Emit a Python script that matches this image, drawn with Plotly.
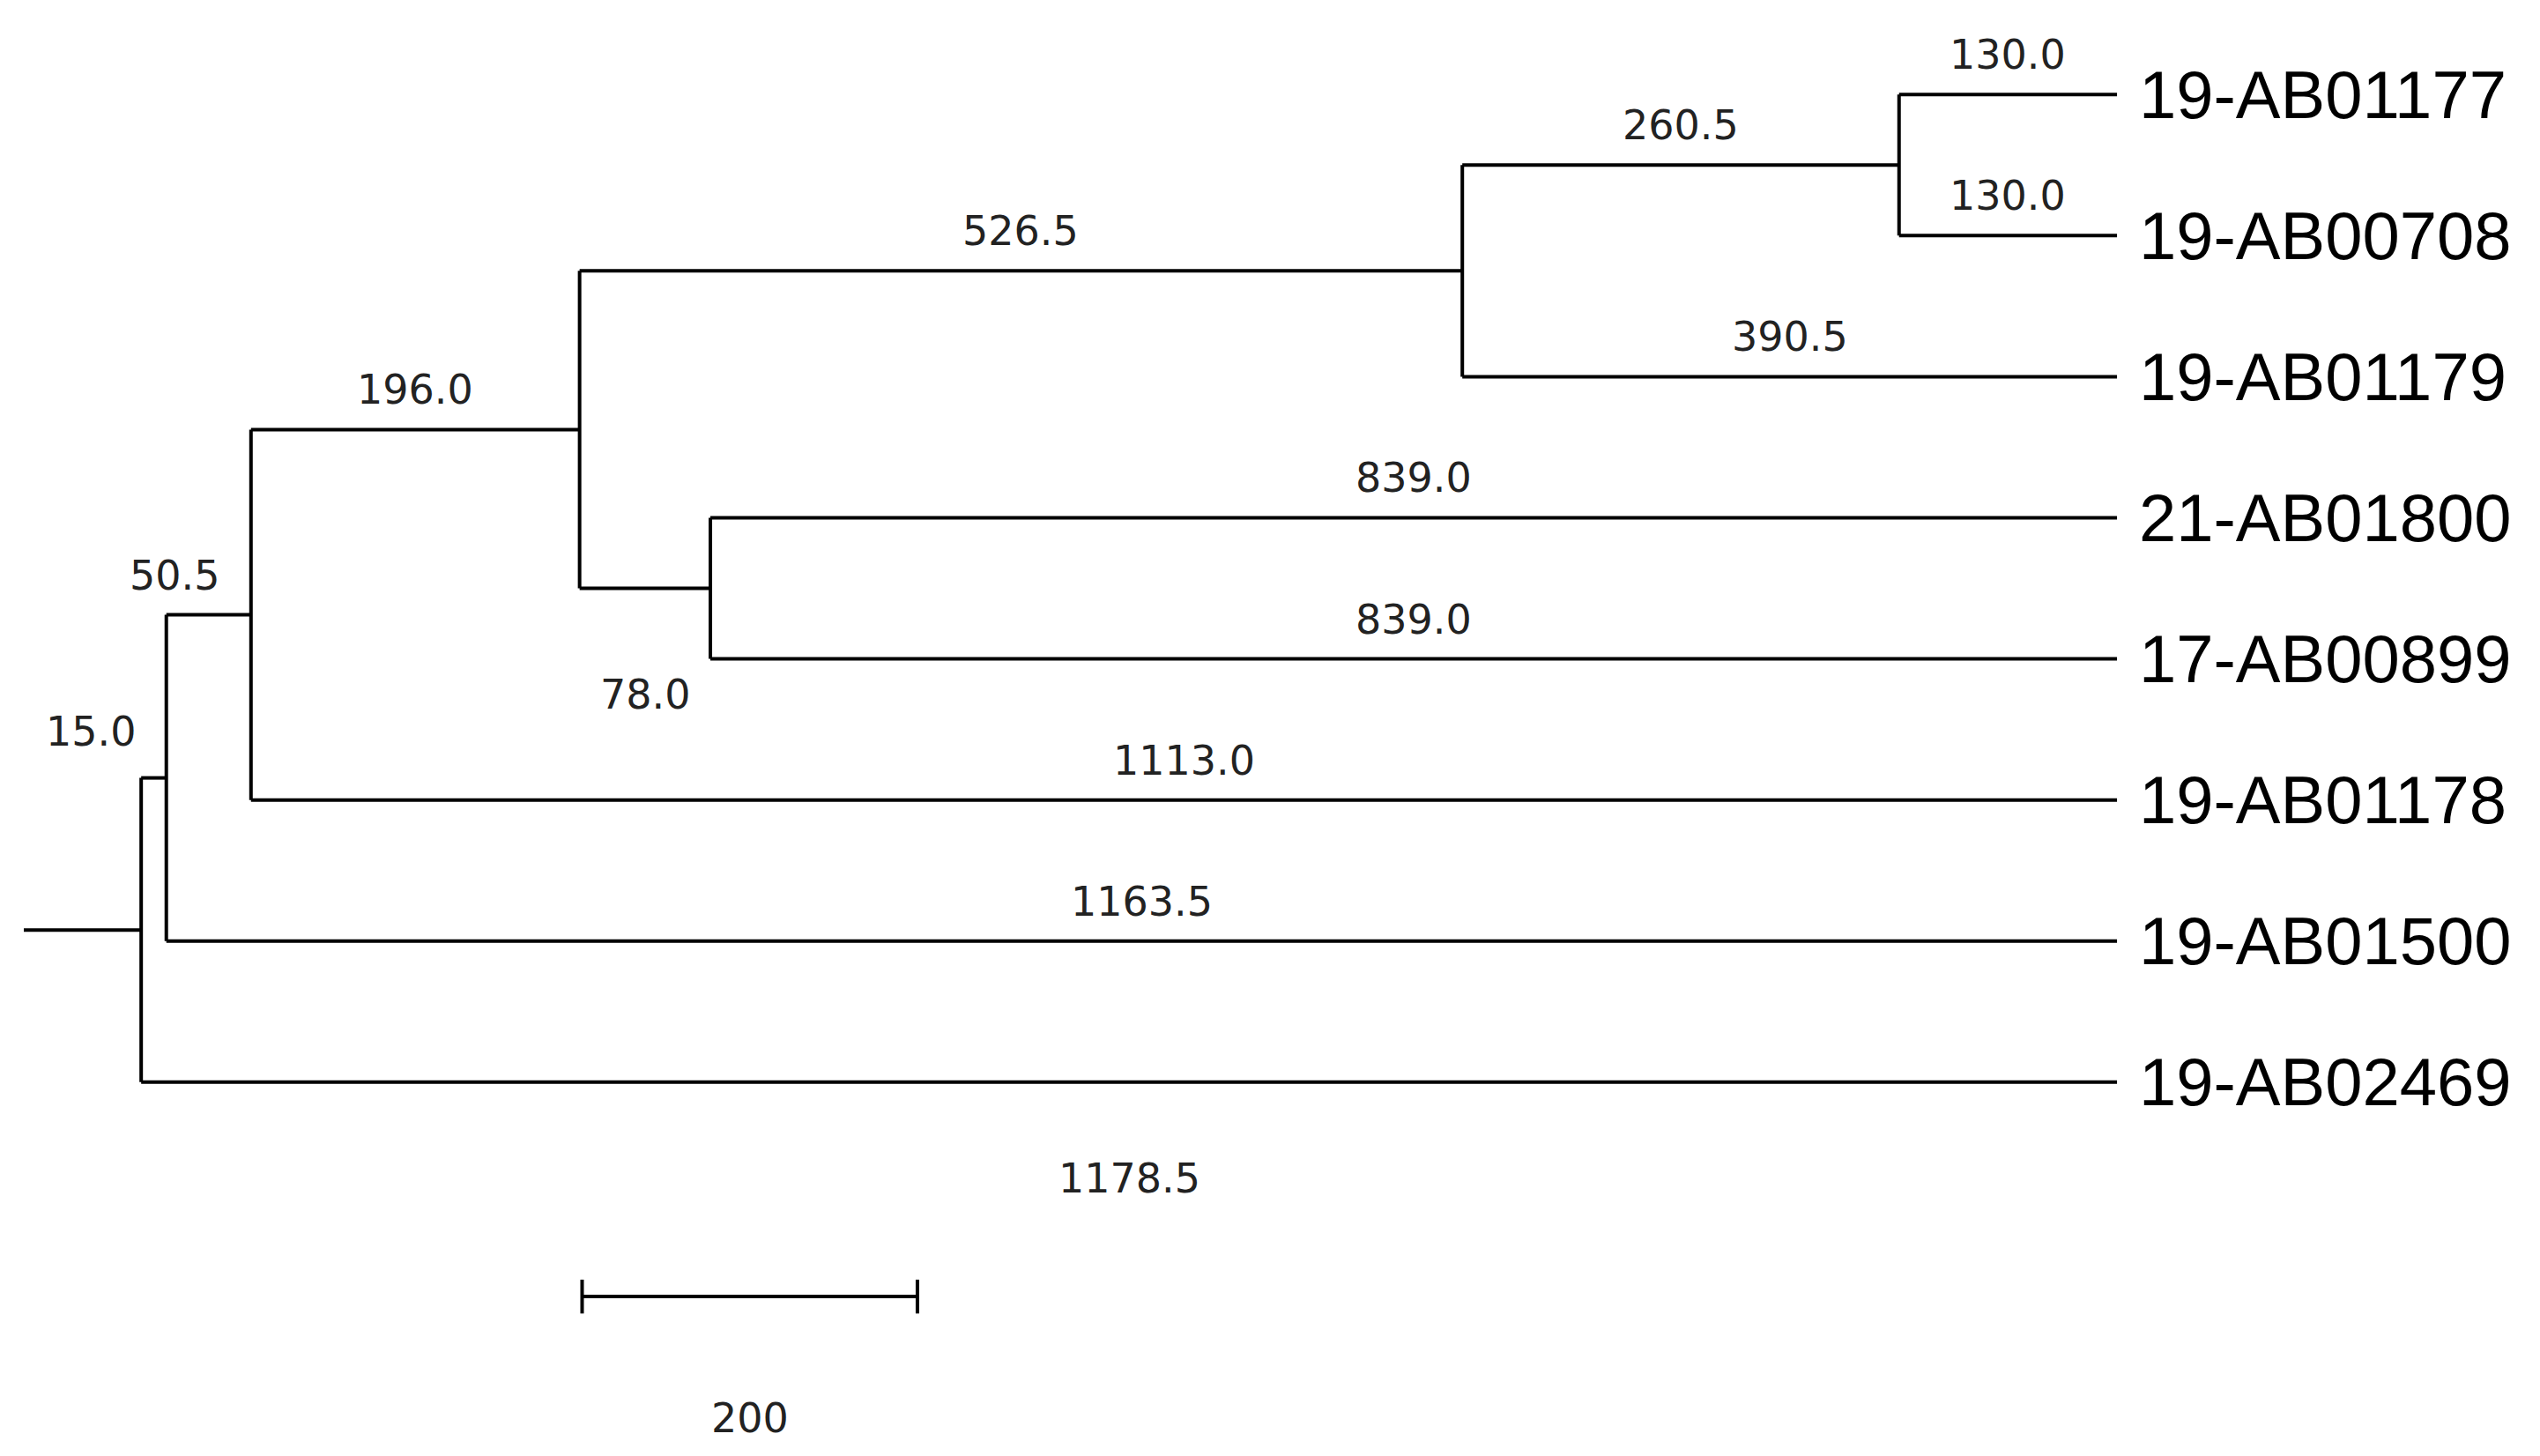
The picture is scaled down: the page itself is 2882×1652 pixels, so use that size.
import plotly.graph_objects as go

# Tree: node -> (parent, branch length)
nodes = ["A", "B", "C", "D", "E", "F",
         "19-AB01177", "19-AB00708", "19-AB01179", "21-AB01800",
         "17-AB00899", "19-AB01178", "19-AB01500", "19-AB02469"]
parents = ["root", "A", "B", "C", "C", "D",
           "F", "F", "D", "E", "E", "B", "A", "root"]
lengths = [15.0, 50.5, 196.0, 526.5, 78.0, 260.5,
           130.0, 130.0, 390.5, 839.0, 839.0, 1113.0, 1163.5, 1178.5]
label_mode = ["left", "above_left", "above", "above", "below_left", "above",
              "above", "above", "above", "above", "above", "above", "above", "below"]
tips = ["19-AB01177", "19-AB00708", "19-AB01179", "21-AB01800",
        "17-AB00899", "19-AB01178", "19-AB01500", "19-AB02469"]
root_stub = 70
scale_len = 200

par = dict(zip(nodes, parents))
blen = dict(zip(nodes, lengths))
mode = dict(zip(nodes, label_mode))
children = {}
for n, p in zip(nodes, parents):
    children.setdefault(p, []).append(n)

X, Y = {"root": 0.0}, {}
def setx(n):
    for c in children.get(n, []):
        X[c] = X[n] + blen[c]
        setx(c)
setx("root")
for i, t in enumerate(tips):
    Y[t] = i
def sety(n):
    if n in Y:
        return Y[n]
    ys = [sety(c) for c in children[n]]
    Y[n] = (min(ys) + max(ys)) / 2
    return Y[n]
sety("root")

xs, ys = [-root_stub, 0, None], [Y["root"], Y["root"], None]
for n in ["root"] + nodes:
    ch = children.get(n, [])
    if ch:
        cy = [Y[c] for c in ch]
        xs += [X[n], X[n], None]; ys += [min(cy), max(cy), None]
        for c in ch:
            xs += [X[n], X[c], None]; ys += [Y[c], Y[c], None]

fig = go.Figure()
fig.add_trace(go.Scatter(x=xs, y=ys, mode="lines", line=dict(color="black", width=4),
                         hoverinfo="skip", showlegend=False))
# scale bar
sx0 = 263
sy = 8.52
fig.add_trace(go.Scatter(x=[sx0, sx0, None, sx0, sx0 + scale_len, None, sx0 + scale_len, sx0 + scale_len],
                         y=[sy - 0.12, sy + 0.12, None, sy, sy, None, sy - 0.12, sy + 0.12],
                         mode="lines", line=dict(color="black", width=4),
                         hoverinfo="skip", showlegend=False))

ann = []
bf = dict(family="DejaVu Sans", size=46, color="#222")
for n in nodes:
    p = par[n]
    x0, x1, y = X[p], X[n], Y[n]
    m = mode[n]
    txt = f"{blen[n]:.1f}"
    if m == "above":
        ann.append(dict(x=(x0 + x1) / 2, y=y - 0.1, text=txt, yanchor="bottom", xanchor="center"))
    elif m == "above_left":
        ann.append(dict(x=x0 + 5, y=y - 0.1, text=txt, yanchor="bottom", xanchor="center"))
    elif m == "below_left":
        ann.append(dict(x=x1 - 39, y=Y[n] + 0.57, text=txt, yanchor="top", xanchor="center"))
    elif m == "below":
        ann.append(dict(x=(x0 + x1) / 2, y=y + 0.5, text=txt, yanchor="top", xanchor="center"))
    elif m == "left":
        ann.append(dict(x=x0 - 30, y=y - 0.15, text=txt, yanchor="bottom", xanchor="center"))
for t in tips:
    ann.append(dict(x=X[t] + 12, y=Y[t], text=t, xanchor="left", yanchor="middle",
                    font=dict(family="Liberation Sans", size=76, color="black")))
ann.append(dict(x=sx0 + scale_len / 2, y=9.38, text=str(scale_len), xanchor="center", yanchor="middle"))
for a in ann:
    a.setdefault("font", bf)
    a["showarrow"] = False

fig.update_layout(width=2882, height=1652, margin=dict(l=0, r=0, t=0, b=0),
                  plot_bgcolor="white", paper_bgcolor="white", annotations=ann)
fig.update_xaxes(range=[-80, 1435], visible=False)
fig.update_yaxes(range=[9.7, -0.62], visible=False)
fig.write_html("out.html")
